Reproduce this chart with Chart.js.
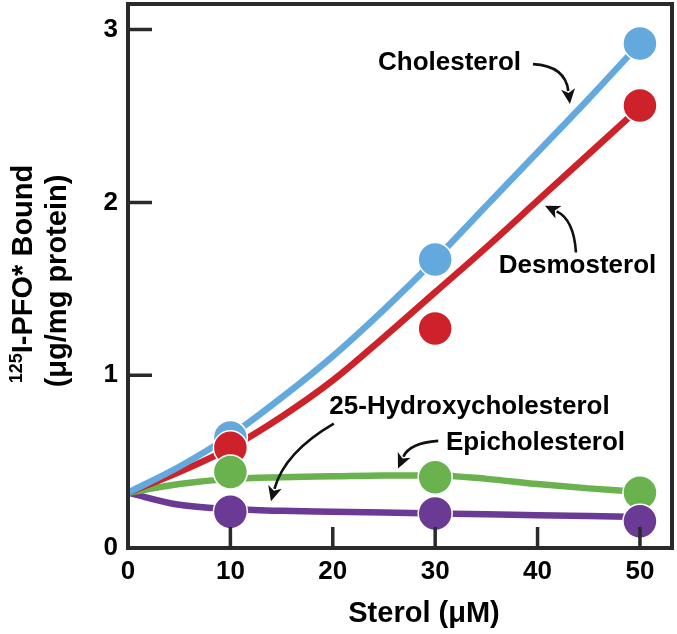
<!DOCTYPE html>
<html>
<head>
<meta charset="utf-8">
<script src="https://cdn.jsdelivr.net/npm/chart.js@4"></script>
<style>
  body { margin: 0; background: #fff; }
  canvas { display: block; }
</style>
</head>
<body>
<canvas id="pfoChart" width="677" height="634"></canvas>
<script>
// measured points (sterol uM vs ug/mg protein)
const sterolConc = [10, 30, 50];
const cholesterol = [0.64, 1.67, 2.92];
const desmosterol = [0.58, 1.27, 2.56];
const epicholesterol = [0.44, 0.41, 0.32];
const hydroxycholesterol = [0.21, 0.20, 0.155];

// fitted curves
const fitConc = [0, 5, 10, 15, 20, 25, 30, 35, 40, 45, 50];
const cholesterolFit = [0.32, 0.47, 0.65, 0.87, 1.11, 1.38, 1.67, 1.98, 2.29, 2.60, 2.92];
const desmosterolFit = [0.32, 0.44, 0.58, 0.76, 0.97, 1.22, 1.48, 1.74, 2.01, 2.28, 2.55];
const epicholesterolFit = [0.32, 0.37, 0.40, 0.41, 0.415, 0.42, 0.42, 0.40, 0.37, 0.345, 0.325];
const hydroxyFit = [0.32, 0.25, 0.225, 0.215, 0.21, 0.205, 0.20, 0.195, 0.19, 0.185, 0.18];

const xTicks = [0, 10, 20, 30, 40, 50];
const yTicks = [0, 1, 2, 3];

const FONT = "'Liberation Sans', Arial, Helvetica, sans-serif";
const INK = '#2a2a2a';
const colors = {
    chol: '#63a9dd',
    desmo: '#cd2229',
    epi: '#6ab24e',
    hydroxy: '#6b3a94'
};

function pts(xs, ys) {
    return xs.map((x, i) => ({ x: x, y: ys[i] }));
}

function fitLine(label, ys, color) {
    return {
        label: label,
        data: pts(fitConc, ys),
        showLine: true,
        borderColor: color,
        borderWidth: 6.5,
        pointRadius: 0,
        cubicInterpolationMode: 'monotone',
        fill: false,
        order: 10
    };
}

function markers(label, ys, color, order) {
    return {
        label: label,
        data: pts(sterolConc, ys),
        showLine: false,
        backgroundColor: color,
        borderColor: '#ffffff',
        borderWidth: 1.5,
        pointRadius: 17,
        order: order
    };
}

// labels and arrows, placed in data units
const notes = [
    { text: 'Cholesterol', x: 31.4, y: 2.81, tail: [39.55, 2.80], ctrl: [42.7, 2.79], tip: [43.16, 2.57] },
    { text: 'Desmosterol', x: 43.9, y: 1.63, tail: [43.75, 1.71], ctrl: [43.55, 1.90], tip: [40.72, 1.98] },
    { text: '25-Hydroxycholesterol', x: 33.35, y: 0.815, tail: [20.1, 0.72], ctrl: [15.3, 0.555], tip: [13.96, 0.27] },
    { text: 'Epicholesterol', x: 39.8, y: 0.607, tail: [30.3, 0.62], ctrl: [27.5, 0.608], tip: [26.37, 0.46] }
];

function drawArrow(ctx, p0, c, p1) {
    const ang = Math.atan2(p1[1] - c[1], p1[0] - c[0]);
    const len = 15, half = 7;
    const bx = p1[0] - Math.cos(ang) * (len - 2);
    const by = p1[1] - Math.sin(ang) * (len - 2);
    ctx.beginPath();
    ctx.moveTo(p0[0], p0[1]);
    ctx.quadraticCurveTo(c[0], c[1], bx, by);
    ctx.lineWidth = 2.6;
    ctx.strokeStyle = '#111';
    ctx.stroke();
    ctx.beginPath();
    ctx.moveTo(p1[0], p1[1]);
    ctx.lineTo(p1[0] - Math.cos(ang) * len - Math.sin(ang) * half, p1[1] - Math.sin(ang) * len + Math.cos(ang) * half);
    ctx.lineTo(p1[0] - Math.cos(ang) * (len - 4), p1[1] - Math.sin(ang) * (len - 4));
    ctx.lineTo(p1[0] - Math.cos(ang) * len + Math.sin(ang) * half, p1[1] - Math.sin(ang) * len - Math.cos(ang) * half);
    ctx.closePath();
    ctx.fillStyle = '#111';
    ctx.fill();
}

const framePlugin = {
    id: 'frameAndNotes',
    afterDraw(chart) {
        const ctx = chart.ctx;
        const area = chart.chartArea;
        const xs = chart.scales.x, ys = chart.scales.y;
        ctx.save();

        // box round the plot
        ctx.strokeStyle = INK;
        ctx.lineWidth = 4;
        ctx.strokeRect(area.left, area.top, area.right - area.left, area.bottom - area.top);

        // inward tick marks
        ctx.lineWidth = 3.5;
        ctx.beginPath();
        xTicks.slice(1).forEach(v => {
            const px = xs.getPixelForValue(v);
            ctx.moveTo(px, area.bottom);
            ctx.lineTo(px, area.bottom - 21);
        });
        yTicks.slice(1).forEach(v => {
            const py = ys.getPixelForValue(v);
            ctx.moveTo(area.left, py);
            ctx.lineTo(area.left + 24, py);
        });
        ctx.stroke();

        // annotations
        ctx.font = 'bold 26px ' + FONT;
        ctx.textAlign = 'center';
        ctx.textBaseline = 'middle';
        notes.forEach(n => {
            ctx.fillStyle = '#000';
            ctx.fillText(n.text, xs.getPixelForValue(n.x), ys.getPixelForValue(n.y));
            const P = p => [xs.getPixelForValue(p[0]), ys.getPixelForValue(p[1])];
            drawArrow(ctx, P(n.tail), P(n.ctrl), P(n.tip));
        });

        // x axis title
        ctx.fillStyle = '#000';
        ctx.font = 'bold 29px ' + FONT;
        ctx.textBaseline = 'alphabetic';
        ctx.fillText('Sterol (\u03bcM)', 424, 622);

        // y axis title, two lines rotated
        const big = 'bold 29px ' + FONT;
        const small = 'bold 18px ' + FONT;
        ctx.save();
        ctx.translate(32, 274);
        ctx.rotate(-Math.PI / 2);
        ctx.textAlign = 'left';
        ctx.font = small;
        const wSup = ctx.measureText('125').width;
        ctx.font = big;
        const wMain = ctx.measureText('I-PFO* Bound').width;
        const start = -(wSup + wMain) / 2;
        ctx.font = small;
        ctx.fillText('125', start, -10);
        ctx.font = big;
        ctx.fillText('I-PFO* Bound', start + wSup, 0);
        ctx.restore();

        ctx.save();
        ctx.translate(66, 281);
        ctx.rotate(-Math.PI / 2);
        ctx.textAlign = 'center';
        ctx.font = big;
        ctx.fillText('(\u03bcg/mg protein)', 0, 0);
        ctx.restore();

        ctx.restore();
    }
};

function noEdgePadding(s) {
    s.paddingLeft = 0;
    s.paddingRight = 0;
    s.paddingTop = 0;
    s.paddingBottom = 0;
}

const ctx = document.getElementById('pfoChart').getContext('2d');
new Chart(ctx, {
    type: 'scatter',
    data: {
        datasets: [
            fitLine('Cholesterol fit', cholesterolFit, colors.chol),
            fitLine('Desmosterol fit', desmosterolFit, colors.desmo),
            fitLine('Epicholesterol fit', epicholesterolFit, colors.epi),
            fitLine('25-Hydroxycholesterol fit', hydroxyFit, colors.hydroxy),
            markers('Cholesterol', cholesterol, colors.chol, 4),
            markers('Desmosterol', desmosterol, colors.desmo, 3),
            markers('Epicholesterol', epicholesterol, colors.epi, 2),
            markers('25-Hydroxycholesterol', hydroxycholesterol, colors.hydroxy, 1)
        ]
    },
    options: {
        responsive: false,
        animation: false,
        events: [],
        layout: { autoPadding: false, padding: { left: 0, right: 5, top: 4, bottom: 0 } },
        plugins: {
            legend: { display: false },
            tooltip: { enabled: false }
        },
        scales: {
            x: {
                type: 'linear',
                min: 0,
                max: 53.13,
                afterBuildTicks: s => { s.ticks = xTicks.map(v => ({ value: v })); },
                afterFit: s => { s.height = 86; noEdgePadding(s); },
                grid: { display: false, drawTicks: false },
                border: { display: false },
                ticks: {
                    color: '#000',
                    padding: 8,
                    font: { family: FONT, size: 26, weight: 'bold' }
                }
            },
            y: {
                type: 'linear',
                min: 0,
                max: 3.148,
                afterBuildTicks: s => { s.ticks = yTicks.map(v => ({ value: v })); },
                afterFit: s => { s.width = 128; noEdgePadding(s); },
                grid: { display: false, drawTicks: false },
                border: { display: false },
                ticks: {
                    color: '#000',
                    padding: 10,
                    font: { family: FONT, size: 26, weight: 'bold' }
                }
            }
        }
    },
    plugins: [framePlugin]
});
</script>
</body>
</html>
